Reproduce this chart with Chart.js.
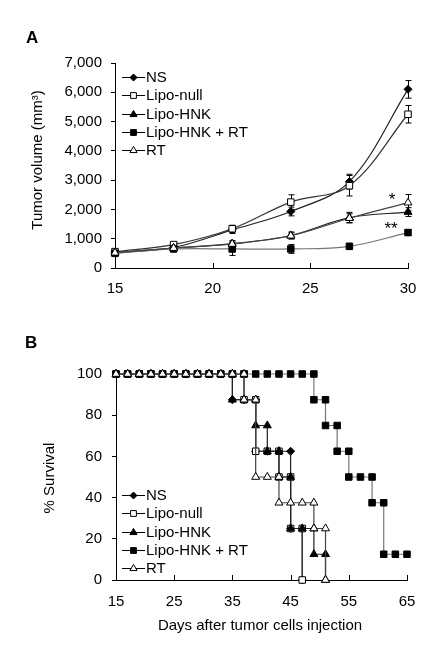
<!DOCTYPE html>
<html>
<head>
<meta charset="utf-8">
<script src="https://cdn.jsdelivr.net/npm/chart.js@4"></script>
<style>
body { margin: 0; background: #fff; }
#wrap { position: relative; width: 442px; height: 654px; background: #fff; }
canvas { position: absolute; left: 0; }
#tumorChart { top: 0; }
#survivalChart { top: 300px; }
</style>
</head>
<body>
<div id="wrap">
	<canvas id="tumorChart" width="442" height="300"></canvas>
	<canvas id="survivalChart" width="442" height="354"></canvas>
</div>
<script>
// groups, shared by both panels
const groupNames = ["NS", "Lipo-null", "Lipo-HNK", "Lipo-HNK + RT", "RT"];

// panel A: tumor volume (mm3) with error bars
const tumorDays = [15, 18, 21, 24, 27, 30];
const nsVolume = [520, 700, 1300, 1930, 2950, 6100];
const nsError = [70, 60, 120, 150, 250, 300];
const lipoNullVolume = [560, 800, 1340, 2250, 2810, 5250];
const lipoNullError = [60, 60, 120, 250, 350, 300];
const lipoHnkVolume = [520, 680, 830, 1110, 1720, 1910];
const lipoHnkError = [60, 50, 100, 120, 180, 150];
const lipoHnkRtVolume = [500, 650, 650, 650, 740, 1210];
const lipoHnkRtError = [60, 50, 220, 150, 100, 100];
const rtVolume = [520, 680, 820, 1100, 1700, 2230];
const rtError = [60, 50, 100, 100, 150, 280];
const volumeTicks = [0, 1000, 2000, 3000, 4000, 5000, 6000, 7000];

// panel B: % survival (Kaplan-Meier steps)
const nsDays = [15, 17, 19, 21, 23, 25, 27, 29, 31, 33, 35, 35, 37, 39, 39, 41, 43, 45, 45, 47, 47];
const nsSurvival = [100, 100, 100, 100, 100, 100, 100, 100, 100, 100, 100, 87.5, 87.5, 87.5, 62.5, 62.5, 62.5, 62.5, 25, 25, 0];
const lipoNullDays = [15, 17, 19, 21, 23, 25, 27, 29, 31, 33, 35, 37, 37, 39, 39, 41, 43, 43, 45, 45, 47, 47];
const lipoNullSurvival = [100, 100, 100, 100, 100, 100, 100, 100, 100, 100, 100, 100, 87.5, 87.5, 62.5, 62.5, 62.5, 50, 50, 25, 25, 0];
const lipoHnkDays = [15, 17, 19, 21, 23, 25, 27, 29, 31, 33, 35, 35, 37, 39, 39, 41, 41, 43, 43, 45, 45, 47, 49, 49, 51, 51];
const lipoHnkSurvival = [100, 100, 100, 100, 100, 100, 100, 100, 100, 100, 100, 87.5, 87.5, 87.5, 75, 75, 62.5, 62.5, 50, 50, 25, 25, 25, 12.5, 12.5, 0];
const lipoHnkRtDays = [15, 17, 19, 21, 23, 25, 27, 29, 31, 33, 35, 37, 39, 41, 43, 45, 47, 49, 49, 51, 51, 53, 53, 55, 55, 57, 59, 59, 61, 61, 63, 65];
const lipoHnkRtSurvival = [100, 100, 100, 100, 100, 100, 100, 100, 100, 100, 100, 100, 100, 100, 100, 100, 100, 100, 87.5, 87.5, 75, 75, 62.5, 62.5, 50, 50, 50, 37.5, 37.5, 12.5, 12.5, 12.5];
const rtDays = [15, 17, 19, 21, 23, 25, 27, 29, 31, 33, 35, 37, 37, 39, 39, 41, 43, 43, 45, 47, 49, 49, 51, 51];
const rtSurvival = [100, 100, 100, 100, 100, 100, 100, 100, 100, 100, 100, 100, 87.5, 87.5, 50, 50, 50, 37.5, 37.5, 37.5, 37.5, 25, 25, 0];

// marker look per group
const markerStyles = ["rectRot", "rect", "triangle", "rect", "triangle"];
const markerFills = ["#000", "#fff", "#000", "#000", "#fff"];
const markerRadius = [4, 4.6, 4.6, 4.6, 4.6];
const lineColors = ["#222", "#333", "#222", "#777", "#444"];

Chart.defaults.font.family = "'Liberation Sans', Arial, sans-serif";
Chart.defaults.font.size = 15;
Chart.defaults.color = "#000";

const toPoints = (xs, ys) => xs.map((x, i) => ({ x: x, y: ys[i] }));

const drawMarker = (ctx, style, x, y, r, fill) => {
	ctx.beginPath();
	if (style === "rectRot") {
		ctx.moveTo(x, y - r); ctx.lineTo(x + r, y); ctx.lineTo(x, y + r); ctx.lineTo(x - r, y);
	} else if (style === "triangle") {
		ctx.moveTo(x, y - r); ctx.lineTo(x + r * 0.87, y + r * 0.5); ctx.lineTo(x - r * 0.87, y + r * 0.5);
	} else {
		const s = r * Math.SQRT1_2;
		ctx.rect(x - s, y - s, 2 * s, 2 * s);
	}
	ctx.closePath();
	ctx.fillStyle = fill;
	ctx.fill();
	ctx.strokeStyle = "#000";
	ctx.lineWidth = 1;
	ctx.stroke();
};

const makeDataset = (i, points, extra) => Object.assign({
	label: groupNames[i],
	data: points,
	borderColor: lineColors[i],
	borderWidth: 1.2,
	pointStyle: markerStyles[i],
	pointRadius: markerRadius[i],
	pointBackgroundColor: markerFills[i],
	pointBorderColor: "#000",
	pointBorderWidth: 1,
	clip: false,
	order: 5 - i,
}, extra);

// legend drawn as line + marker + label, like the original
const lineLegend = (rows) => ({
	id: "lineLegend",
	afterDraw(chart) {
		const ctx = chart.ctx;
		ctx.save();
		chart.data.datasets.forEach((ds, i) => {
			const y = rows[i];
			ctx.strokeStyle = "#000";
			ctx.lineWidth = 1;
			ctx.beginPath();
			ctx.moveTo(122, y + 0.5);
			ctx.lineTo(145, y + 0.5);
			ctx.stroke();
			drawMarker(ctx, markerStyles[i], 133.5, y + 0.5, markerRadius[i] - 0.5, markerFills[i]);
			ctx.fillStyle = "#000";
			ctx.font = "15px 'Liberation Sans', Arial, sans-serif";
			ctx.textAlign = "left";
			ctx.textBaseline = "middle";
			ctx.fillText(ds.label, 146, y + 1);
		});
		ctx.restore();
	}
});

// x ticks in the original point up into the plot
const innerTicks = {
	id: "innerTicks",
	afterDraw(chart) {
		const { ctx, chartArea, scales: { x } } = chart;
		ctx.save();
		ctx.strokeStyle = "#000";
		ctx.lineWidth = 1;
		x.ticks.forEach(t => {
			const px = Math.round(x.getPixelForValue(t.value)) + 0.5;
			ctx.beginPath();
			ctx.moveTo(px, chartArea.bottom);
			ctx.lineTo(px, chartArea.bottom - 5);
			ctx.stroke();
		});
		ctx.restore();
	}
};

const errorBars = {
	id: "errorBars",
	beforeDatasetsDraw(chart) {
		const { ctx, scales: { x, y } } = chart;
		ctx.save();
		ctx.strokeStyle = "#000";
		ctx.lineWidth = 1;
		chart.data.datasets.forEach(ds => {
			ds.data.forEach((p, i) => {
				const e = ds.errors[i];
				const px = Math.round(x.getPixelForValue(p.x)) + 0.5;
				const top = y.getPixelForValue(p.y + e);
				const bot = y.getPixelForValue(p.y - e);
				ctx.beginPath();
				ctx.moveTo(px, top); ctx.lineTo(px, bot);
				ctx.moveTo(px - 3, top); ctx.lineTo(px + 3, top);
				ctx.moveTo(px - 3, bot); ctx.lineTo(px + 3, bot);
				ctx.stroke();
			});
		});
		ctx.restore();
	}
};

const panelText = (letter, letterPos, yTitle, yTitlePos, xTitle, xTitlePos, notes) => ({
	id: "panelText",
	afterDraw(chart) {
		const ctx = chart.ctx;
		ctx.save();
		ctx.fillStyle = "#000";
		ctx.font = "bold 17px 'Liberation Sans', Arial, sans-serif";
		ctx.textAlign = "left";
		ctx.textBaseline = "alphabetic";
		ctx.fillText(letter, letterPos[0], letterPos[1]);

		ctx.font = "15px 'Liberation Sans', Arial, sans-serif";
		ctx.textAlign = "center";
		ctx.textBaseline = "middle";
		ctx.save();
		ctx.translate(yTitlePos[0], yTitlePos[1]);
		ctx.rotate(-Math.PI / 2);
		ctx.fillText(yTitle, 0, 0);
		ctx.restore();
		if (xTitle) ctx.fillText(xTitle, xTitlePos[0], xTitlePos[1]);

		ctx.font = "17px 'Liberation Sans', Arial, sans-serif";
		notes.forEach(n => ctx.fillText(n.text, n.x, n.y));
		ctx.restore();
	}
});

const axisStyle = (extra) => Object.assign({
	grid: { drawOnChartArea: false, tickLength: 4, color: "#000" },
	border: { color: "#000", width: 1 },
}, extra);

// panel A
new Chart(document.querySelector("#tumorChart"), {
	type: "line",
	data: {
		datasets: [
			makeDataset(0, toPoints(tumorDays, nsVolume), { errors: nsError, tension: 0.35 }),
			makeDataset(1, toPoints(tumorDays, lipoNullVolume), { errors: lipoNullError, tension: 0.35 }),
			makeDataset(2, toPoints(tumorDays, lipoHnkVolume), { errors: lipoHnkError, tension: 0.35 }),
			makeDataset(3, toPoints(tumorDays, lipoHnkRtVolume), { errors: lipoHnkRtError, tension: 0.35 }),
			makeDataset(4, toPoints(tumorDays, rtVolume), { errors: rtError, tension: 0.35 }),
		]
	},
	options: {
		responsive: false,
		animation: false,
		devicePixelRatio: 1,
		events: [],
		layout: { padding: { top: 63, right: 34, left: 0, bottom: 0 } },
		plugins: { legend: { display: false }, tooltip: { enabled: false } },
		scales: {
			x: axisStyle({
				type: "linear", min: 15, max: 30,
				grid: { drawOnChartArea: false, drawTicks: false, color: "#000" },
				ticks: { stepSize: 5, padding: 12 },
				afterFit: s => { s.height = 32; },
			}),
			y: axisStyle({
				type: "linear", min: volumeTicks[0], max: volumeTicks[volumeTicks.length - 1],
				afterBuildTicks: s => { s.ticks = volumeTicks.map(v => ({ value: v })); },
				ticks: { padding: 9, callback: v => v.toLocaleString("en-US") },
				afterFit: s => { s.width = 115; },
			}),
		}
	},
	plugins: [errorBars, innerTicks, lineLegend([77, 95, 114, 132, 150]),
		panelText("A", [26, 43], "Tumor volume (mm\u00B3)", [38, 160], null, null,
			[{ text: "*", x: 392, y: 200 }, { text: "**", x: 391, y: 229 }])],
});

// panel B
new Chart(document.querySelector("#survivalChart"), {
	type: "line",
	data: {
		datasets: [
			makeDataset(0, toPoints(nsDays, nsSurvival), { tension: 0 }),
			makeDataset(1, toPoints(lipoNullDays, lipoNullSurvival), { tension: 0 }),
			makeDataset(2, toPoints(lipoHnkDays, lipoHnkSurvival), { tension: 0 }),
			makeDataset(3, toPoints(lipoHnkRtDays, lipoHnkRtSurvival), { tension: 0 }),
			makeDataset(4, toPoints(rtDays, rtSurvival), { tension: 0 }),
		]
	},
	options: {
		responsive: false,
		animation: false,
		devicePixelRatio: 1,
		events: [],
		layout: { padding: { top: 74, right: 35, left: 0, bottom: 0 } },
		plugins: { legend: { display: false }, tooltip: { enabled: false } },
		scales: {
			x: axisStyle({
				type: "linear", min: 15, max: 65,
				grid: { drawOnChartArea: false, drawTicks: false, color: "#000" },
				ticks: { stepSize: 10, padding: 13 },
				afterFit: s => { s.height = 74; },
			}),
			y: axisStyle({
				type: "linear", min: 0, max: 100,
				ticks: { stepSize: 20, padding: 10 },
				afterFit: s => { s.width = 116; },
			}),
		}
	},
	plugins: [innerTicks, lineLegend([195, 213, 232, 250, 268]),
		panelText("B", [25, 48], "% Survival", [50, 178], "Days after tumor cells injection", [260, 326], [])],
});
</script>
</body>
</html>
